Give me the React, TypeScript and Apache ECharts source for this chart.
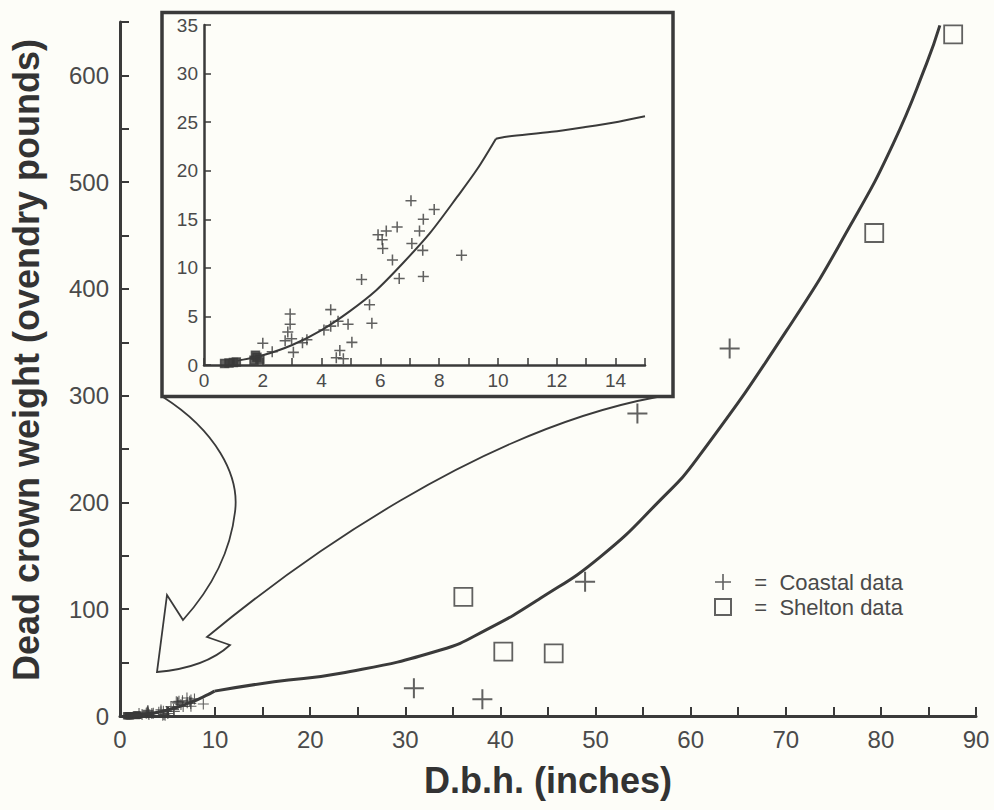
import React, { useEffect, useRef } from "react";
import * as echarts from "echarts";

// ---- Data ----
// Main panel: Coastal data (+)
const coastalMainX = [30.9, 38.1, 48.9, 54.4, 64.1];
const coastalMainY = [25.9, 15.6, 125.7, 283.3, 344.2];
// Main panel: Shelton data (squares)
const sheltonMainX = [36.1, 40.3, 45.6, 79.3, 87.6];
const sheltonMainY = [111.6, 60.2, 58.7, 452.4, 638.4];

// Small trees (shown in the inset and as a cluster near the origin of the main panel)
const coastalSmallX = [2.0, 2.32, 2.93, 2.93, 2.85, 2.76, 2.98, 3.04, 3.35, 3.5, 4.08, 4.31, 4.31, 4.56, 4.9, 5.03, 4.62, 4.5, 4.74, 5.36, 5.63, 5.71, 5.92, 6.06, 6.08, 6.2, 6.57, 6.41, 6.64, 7.04, 7.07, 7.33, 7.46, 7.44, 7.46, 7.83, 8.76];
const coastalSmallY = [2.23, 1.37, 5.25, 4.2, 3.4, 2.5, 2.7, 1.3, 2.3, 2.6, 3.6, 4.0, 5.7, 4.5, 4.2, 2.33, 1.5, 0.75, 0.65, 8.8, 6.2, 4.3, 13.4, 12.9, 12.0, 13.8, 14.2, 10.8, 8.9, 16.9, 12.5, 13.8, 15.0, 11.8, 9.1, 16.0, 11.3];
const sheltonSmallX = [0.7, 0.85, 1.0, 1.1, 1.7, 1.8, 1.9, 1.75];
const sheltonSmallY = [0.15, 0.2, 0.25, 0.3, 0.5, 0.8, 0.6, 1.0];

// Fitted curve, small-tree part (0-15 in.); the break in slope is at 9.93 in.
const curveSmallX = [1.15, 2, 3, 4, 4.94, 5.86, 6.77, 7.69, 8.61, 9.3, 9.93, 10.28, 11.83, 12.97, 14.1, 15];
const curveSmallY = [0.45, 1.0, 2.06, 3.6, 5.5, 7.7, 10.5, 13.6, 17.3, 20.2, 23.3, 23.5, 24.0, 24.5, 25.05, 25.6];
const curveBreakX = 9.93;
// Fitted curve as drawn in the main panel beyond 10 in.
const curveLargeX = [9.93, 16.2, 23.2, 33.7, 38.6, 44.2, 50.5, 56.8, 60.7, 70.8, 76.9, 81.3, 84.8, 86.2];
const curveLargeY = [23.3, 32.1, 40.0, 61.8, 81.2, 110.2, 149.1, 202.2, 241.2, 370.7, 461.2, 536.1, 611.0, 646.8];

// Axis tick settings
const mainXTicks = { min: 0, max: 90, interval: 5, labelEvery: 10 };
const mainYTicks = { min: 0, max: 650, interval: 50, labelEvery: 100 };
const insetXTicks = { min: 0, max: 15, interval: 1, labelEvery: 2 };
const insetYTicks = { min: 0, max: 35, interval: 5, labelEvery: 5 };

const zip = (xs: number[], ys: number[]) => xs.map((x, i) => [x, ys[i]]);

const INK = "#3a3a3a";
const LABEL = "#4a4a4a";
const BG = "#fdfdf8";
const FONT = "'Liberation Sans', Arial, Helvetica, sans-serif";

const PLUS = "path://M0,9L20,9L20,11L0,11Z M9,0L11,0L11,20L9,20Z";
const PLUS_SMALL = "path://M0,8.6L20,8.6L20,11.4L0,11.4Z M8.6,0L11.4,0L11.4,20L8.6,20Z";

const ARROW_D =
  "M163,397 C215,430 240,475 235,512 C230,555 210,590 183,620 L167,595 L157,672 Q205,668 230,645 L207,637 C300,560 480,430 657,397";

let registered = false;
function registerShapes() {
  if (registered) return;
  echarts.graphic.registerShape("bigArrow", (echarts.graphic as any).extendPath(ARROW_D, {}));
  registered = true;
}

function valueAxis(t: { min: number; max: number; interval: number; labelEvery: number }, gridIndex: number, big: boolean) {
  return {
    type: "value",
    gridIndex,
    min: t.min,
    max: t.max,
    interval: t.interval,
    splitLine: { show: false },
    axisLine: { show: true, onZero: false, lineStyle: { color: INK, width: big ? 3 : 2.5 } },
    axisTick: { show: true, inside: true, length: big ? 9 : 7, lineStyle: { color: INK, width: big ? 2 : 1.5 } },
    axisLabel: {
      color: LABEL,
      fontFamily: FONT,
      fontSize: big ? 24 : 19,
      margin: big ? 11 : 6,
      formatter: (v: number) => (Math.abs(v % t.labelEvery) < 1e-9 ? String(v) : ""),
    },
  };
}

function curveSeries(data: number[][], axis: number, width: number, smooth: number) {
  return {
    type: "line",
    xAxisIndex: axis,
    yAxisIndex: axis,
    data,
    showSymbol: false,
    smooth,
    lineStyle: { color: INK, width },
    z: 3,
    silent: true,
  };
}

export default function App() {
  const ref = useRef<HTMLDivElement>(null);
  useEffect(() => {
    if (!ref.current) return;
    registerShapes();
    const chart = echarts.init(ref.current, null, { renderer: "svg" });

    const mainX: any = valueAxis(mainXTicks, 0, true);
    mainX.name = "D.b.h. (inches)";
    mainX.nameLocation = "middle";
    mainX.nameGap = 46;
    mainX.nameTextStyle = { color: "#333", fontFamily: FONT, fontSize: 36, fontWeight: "bold" };
    const mainY: any = valueAxis(mainYTicks, 0, true);
    mainY.name = "Dead crown weight (ovendry pounds)";
    mainY.nameLocation = "middle";
    mainY.nameRotate = 90;
    mainY.nameGap = 76;
    mainY.nameTextStyle = {
      color: "#333",
      fontFamily: FONT,
      fontSize: 36,
      fontWeight: "bold",
      padding: [0, 0, 0, 18],
    };

    const smallPts = zip(curveSmallX, curveSmallY);
    const beforeBreak = smallPts.filter((p) => p[0] <= curveBreakX);
    const afterBreak = smallPts.filter((p) => p[0] >= curveBreakX);

    const option: any = {
      animation: false,
      backgroundColor: BG,
      textStyle: { fontFamily: FONT },
      grid: [
        { left: 119, right: 18, top: 22, height: 694 },
        { left: 204, top: 25, width: 441, height: 340 },
      ],
      xAxis: [mainX, valueAxis(insetXTicks, 1, false)],
      yAxis: [mainY, valueAxis(insetYTicks, 1, false)],
      legend: {
        orient: "vertical",
        left: 714,
        top: 571,
        padding: 0,
        itemWidth: 16,
        itemHeight: 16,
        itemGap: 3,
        data: ["Coastal data", "Shelton data"],
        formatter: (n: string) => "   =  " + n,
        textStyle: { color: LABEL, fontFamily: FONT, fontSize: 22, lineHeight: 22 },
      },
      series: [
        curveSeries(beforeBreak, 0, 3, 0.3),
        curveSeries(zip(curveLargeX, curveLargeY), 0, 3, 0.5),
        curveSeries(beforeBreak, 1, 2, 0.3),
        curveSeries(afterBreak, 1, 2, 0.3),
        {
          type: "scatter",
          name: "Coastal data",
          xAxisIndex: 0,
          yAxisIndex: 0,
          data: zip(coastalMainX, coastalMainY),
          symbol: PLUS,
          symbolSize: 20,
          itemStyle: { color: INK },
        },
        {
          type: "scatter",
          name: "Coastal data",
          xAxisIndex: 0,
          yAxisIndex: 0,
          data: zip(coastalSmallX, coastalSmallY),
          symbol: PLUS,
          symbolSize: 11,
          itemStyle: { color: INK },
        },
        {
          type: "scatter",
          name: "Shelton data",
          xAxisIndex: 0,
          yAxisIndex: 0,
          data: zip(sheltonMainX, sheltonMainY),
          symbol: "rect",
          symbolSize: 18,
          itemStyle: { color: "rgba(0,0,0,0)", borderColor: INK, borderWidth: 1.8 },
        },
        {
          type: "scatter",
          name: "Shelton data",
          xAxisIndex: 0,
          yAxisIndex: 0,
          data: zip(sheltonSmallX, sheltonSmallY),
          symbol: "rect",
          symbolSize: 6,
          itemStyle: { color: INK, borderColor: INK, borderWidth: 1.5 },
        },
        {
          type: "scatter",
          name: "Coastal data",
          xAxisIndex: 1,
          yAxisIndex: 1,
          data: zip(coastalSmallX, coastalSmallY),
          symbol: PLUS_SMALL,
          symbolSize: 11,
          itemStyle: { color: INK },
        },
        {
          type: "scatter",
          name: "Shelton data",
          xAxisIndex: 1,
          yAxisIndex: 1,
          data: zip(sheltonSmallX, sheltonSmallY),
          symbol: "rect",
          symbolSize: 8,
          itemStyle: { color: INK, borderColor: INK, borderWidth: 1.5 },
        },
      ],
      graphic: [
        {
          type: "rect",
          shape: { x: 162, y: 12.5, width: 511, height: 384 },
          style: { fill: "none", stroke: INK, lineWidth: 3.5 },
          z: 10,
        },
        {
          type: "bigArrow",
          x: 0,
          y: 0,
          style: { fill: "none", stroke: INK, lineWidth: 1.8 },
          z: 10,
        },
      ],
    };
    chart.setOption(option);
    return () => chart.dispose();
  }, []);

  return (
    <div
      ref={ref}
      style={{ position: "fixed", left: 0, top: 0, width: 994, height: 810, background: BG }}
    />
  );
}
